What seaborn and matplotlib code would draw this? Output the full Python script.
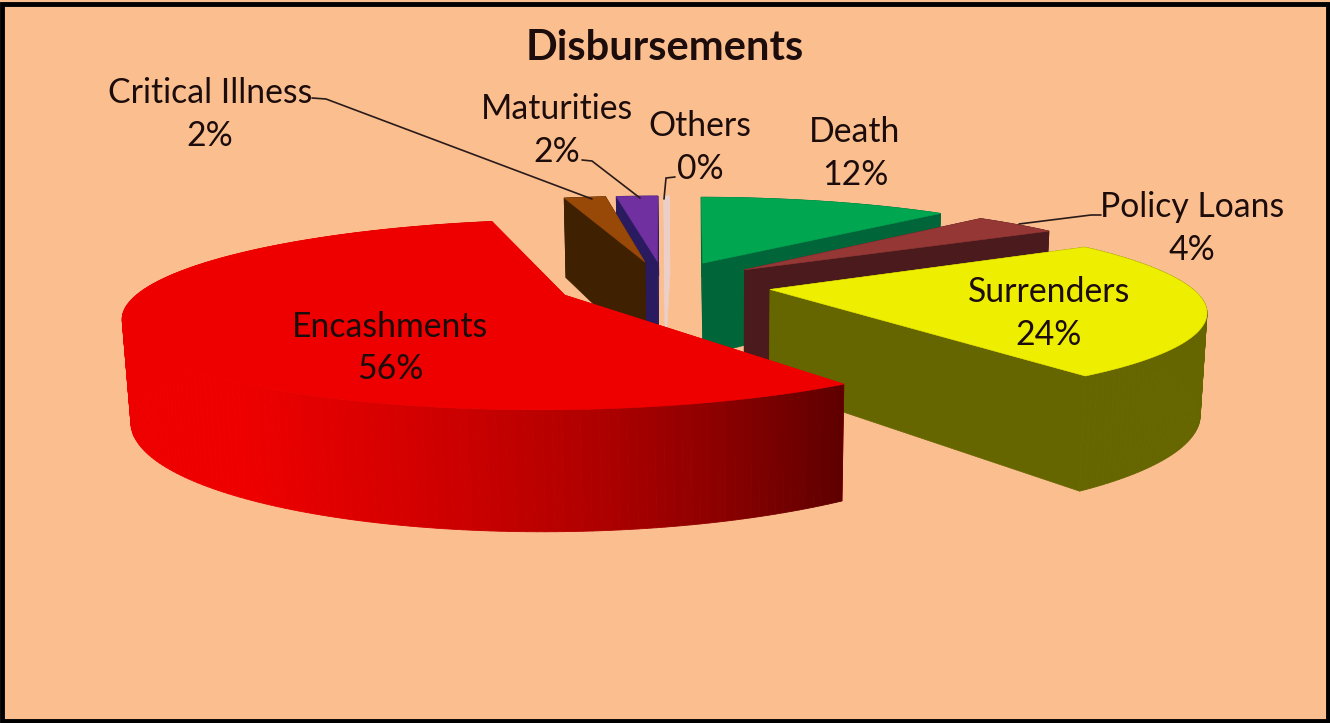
import numpy as np
import seaborn as sns
import matplotlib
matplotlib.use("Agg")
import matplotlib.pyplot as plt
from matplotlib.patches import Rectangle

# Data, clockwise from 12 o'clock
labels = ["Death", "Policy Loans", "Surrenders", "Encashments", "Critical Illness", "Maturities", "Others"]
values = [12, 4, 24, 56, 2, 2, 0.25]
top_colors = ["#00A650", "#953735", "#EEEE00", "#EE0000", "#984807", "#7030A0", "#EBCFC8"]
side_colors = ["#00663A", "#4A1A1C", "#666600", "#EE0000", "#3F2000", "#2A1A60", "#EBCFC8"]
draw_order = ["Others", "Maturities", "Critical Illness", "Death", "Policy Loans", "Surrenders", "Encashments"]

bg = "#FBBF8F"
ink = "#1C0C0C"

# Camera of the fake 3D pie
first_angle = 0.8
explode = 0.28
radius_x = 1.095
cam_dist = 5.0
focal = 1910
vert = 434.6
cx, horizon = 664, -150
nadir = np.array([730, 7500])


def project(X, Y):
    w = cam_dist / (cam_dist + Y)
    return cx + focal / cam_dist * X * w, horizon + vert * w


def drop(px, py):
    # where a point of the top face ends up on the bottom face
    d = 0.20 * py + 40
    t = d / (nadir[1] - py)
    return px + t * (nadir[0] - px), py + d


sns.set_theme(style="white")
plt.rcParams["font.family"] = ["Lato", "DejaVu Sans"]

fig = plt.figure(figsize=(13.3, 7.23), dpi=100, facecolor=bg)
ax = fig.add_axes([0, 0, 1, 1])
ax.set_xlim(0, 1330)
ax.set_ylim(723, 0)
ax.axis("off")
ax.add_patch(Rectangle((1.5, 4), 1326.5, 716.5, fill=False, ec="black", lw=3.5, zorder=50))

shares = np.array(values) / sum(values) * 360
starts = first_angle + np.concatenate([[0], np.cumsum(shares)[:-1]])
grad = sns.blend_palette(["#EE0000", "#DC0000", "#C80000", "#AE0000", "#8B0000", "#5E0000"], 256)


def draw_slice(name):
    i = labels.index(name)
    a0, a1 = starts[i], starts[i] + shares[i]
    mid = np.radians((a0 + a1) / 2)
    ox, oy = explode * np.sin(mid), explode * np.cos(mid)
    th = np.radians(np.linspace(a0, a1, max(int(shares[i]), 24)))
    ax_x, ax_y = project(ox, oy)
    rx, ry = project(ox + radius_x * np.sin(th), oy + np.cos(th))
    bx, by = drop(rx, ry)
    abx, aby = drop(ax_x, ax_y)

    # radial walls
    for k in (0, -1):
        ax.fill([ax_x, rx[k], bx[k], abx], [ax_y, ry[k], by[k], aby],
                color=side_colors[i], lw=0.5)

    # rim, back to front
    for k in np.argsort(-np.cos(th[:-1])):
        c = side_colors[i]
        if name == "Encashments":
            u = np.clip((rx[k] - 240) / (846 - 240), 0, 1)
            c = grad[int(u * 255)]
        ax.fill([rx[k], rx[k + 1], bx[k + 1], bx[k]], [ry[k], ry[k + 1], by[k + 1], by[k]],
                color=c, lw=0.6)

    ax.fill(np.r_[ax_x, rx], np.r_[ax_y, ry], color=top_colors[i], lw=0.4)


for name in draw_order:
    draw_slice(name)

# leader lines
line_kw = dict(color="#2A1A1A", lw=1.2, solid_joinstyle="miter")
ax.plot([312, 326, 592], [98, 99, 199], **line_kw)
ax.plot([582, 592, 640], [160, 161, 198], **line_kw)
ax.plot([675, 666, 664], [177, 178, 199], **line_kw)
ax.plot([1101, 1091, 1019], [215, 215, 224], **line_kw)

# labels
label_pos = {
    "Death": (855, 132, 175),
    "Policy Loans": (1192, 207, 250),
    "Surrenders": (1049, 292, 335),
    "Encashments": (390, 327, 369),
    "Critical Illness": (210, 93, 136),
    "Maturities": (557, 109, 152),
    "Others": (700, 126, 169),
}
for name, v in zip(labels, values):
    x, y1, y2 = label_pos[name]
    ax.text(x, y1, name, ha="center", va="center", fontsize=24.3, color=ink)
    ax.text(x, y2, f"{v:.0f}%", ha="center", va="center", fontsize=24.3, color=ink)

ax.text(665, 48, "Disbursements", ha="center", va="center", fontsize=30, fontweight="bold", color=ink)

fig.savefig("out.png", dpi=100, facecolor=bg)
